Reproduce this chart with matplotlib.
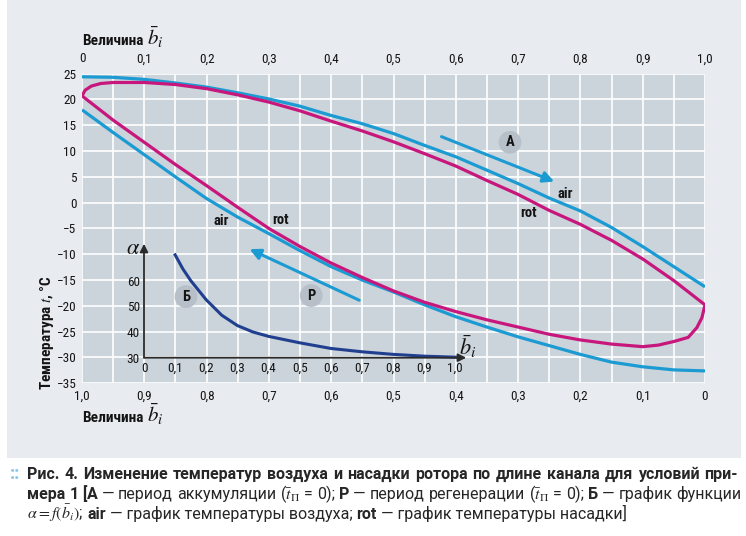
import numpy as np
import matplotlib
matplotlib.use("Agg")
import matplotlib.pyplot as plt
from matplotlib import font_manager as fm
from matplotlib.patches import Rectangle

W, H = 746, 536

# top axis: period A (accumulation), b_i from left to right
x_air_a = [0, 0.05, 0.1, 0.15, 0.2, 0.25, 0.3, 0.35, 0.4, 0.45, 0.5,
           0.55, 0.6, 0.65, 0.7, 0.75, 0.8, 0.85, 0.9, 0.95, 1.0]
t_air_a = [24.4, 24.3, 23.9, 23.2, 22.4, 21.3, 20.1, 18.7, 16.9, 15.3, 13.4,
           11.1, 8.9, 6.3, 3.7, 0.9, -1.6, -4.8, -8.5, -12.4, -16.3]
x_rot_a = [0, 0.005, 0.015, 0.03, 0.05, 0.1, 0.15, 0.2, 0.25, 0.3, 0.35, 0.4,
           0.45, 0.5, 0.55, 0.6, 0.65, 0.7, 0.75, 0.8, 0.85, 0.9, 0.95, 1.0]
t_rot_a = [20.7, 21.8, 22.6, 23.1, 23.3, 23.3, 22.9, 22.1, 20.9, 19.5, 17.8, 15.8,
           13.9, 11.8, 9.5, 7.1, 4.3, 1.6, -1.5, -4.2, -7.3, -10.9, -15.1, -19.8]

# bottom axis: period P (regeneration), b_i from right to left
b_air_p = [1.0, 0.95, 0.9, 0.85, 0.8, 0.75, 0.7, 0.65, 0.6, 0.55, 0.5,
           0.45, 0.4, 0.35, 0.3, 0.25, 0.2, 0.15, 0.1, 0.05, 0.0]
t_air_p = [18.0, 13.6, 9.3, 5.0, 0.8, -2.8, -6.0, -9.3, -12.4, -15.0, -17.3,
           -19.8, -22.1, -24.1, -26.0, -27.7, -29.4, -30.9, -31.8, -32.4, -32.6]
b_rot_p = [1.0, 0.95, 0.9, 0.85, 0.8, 0.75, 0.7, 0.65, 0.6, 0.55, 0.5, 0.45,
           0.4, 0.35, 0.3, 0.25, 0.2, 0.15, 0.1, 0.075, 0.05, 0.027, 0.013, 0.005, 0.0]
t_rot_p = [20.7, 16.0, 11.7, 7.4, 3.3, -0.9, -5.0, -8.5, -11.7, -14.5, -17.1, -19.3,
           -21.1, -22.7, -24.1, -25.5, -26.6, -27.4, -27.9, -27.6, -26.9, -26.1, -24.2, -22.3, -19.8]

# inset: alpha = f(b_i)
b_alpha = [0.1, 0.125, 0.15, 0.2, 0.25, 0.3, 0.35, 0.4, 0.5, 0.6, 0.7, 0.8, 0.9, 1.0]
alpha = [70, 64.5, 60, 52.5, 46.5, 42.5, 40.0, 38.3, 35.8, 33.6, 32.3, 31.3, 30.6, 30.2]

top_ticks = [0, 0.1, 0.2, 0.3, 0.4, 0.5, 0.6, 0.7, 0.8, 0.9, 1.0]
top_labels = ["0", "0,1", "0,2", "0,3", "0,4", "0,5", "0,6", "0,7", "0,8", "0,9", "1,0"]
y_ticks = [25, 20, 15, 10, 5, 0, -5, -10, -15, -20, -25, -30, -35]
inset_y_ticks = [30, 40, 50, 60]

BLUE = "#1c9bd3"
MAGENTA = "#c8177c"
DARK = "#213f8f"
AX_BG = "#cbd3db"
FIG_BG = "#e8ecf0"
CIRCLE = "#b7c0c9"
INK = "#141414"


def pick_condensed():
    names = {f.name for f in fm.fontManager.ttflist}
    for p in ["Roboto Condensed", "Liberation Sans Narrow", "Open Sans Condensed",
              "Noto Sans Condensed", "DejaVu Sans Condensed", "Arial Narrow"]:
        if p in names:
            return p, "normal"
    for f in fm.fontManager.ttflist:
        if f.stretch in ("condensed", "semi-condensed") and f.name in ("DejaVu Sans", "Noto Sans", "Open Sans"):
            return f.name, f.stretch
    return "DejaVu Sans", "normal"


cond_name, cond_stretch = pick_condensed()
plt.rcParams["font.family"] = [cond_name, "DejaVu Sans"]
plt.rcParams["font.stretch"] = cond_stretch
plt.rcParams["mathtext.fontset"] = "stix"
CAPTION_FONT = ["Roboto", "DejaVu Sans"]

fig = plt.figure(figsize=(W / 100, H / 100), dpi=100, facecolor="white")
fig.patches.append(Rectangle((7 / W, 1 - 458 / H), 734 / W, 458 / H,
                             transform=fig.transFigure, fc=FIG_BG, ec="none", zorder=-10))


def fx(px):
    return px / W


def fy(py):
    return 1 - py / H


ax = fig.add_axes([fx(82), fy(383.3), fx(705) - fx(82), fy(73.7) - fy(383.3)])
ax2 = ax.twiny()

ax.set_facecolor(AX_BG)
ax.set_xlim(0, 1)
ax.set_ylim(-35, 25)
ax.set_xticks(top_ticks)
ax.set_xticklabels(top_labels)
ax.set_xticks(np.arange(0, 1.0001, 0.05), minor=True)
ax.set_yticks(y_ticks)
ax.set_yticklabels([str(v).replace("-", "\u2212") for v in y_ticks])
ax.xaxis.tick_top()
ax.tick_params(which="both", length=0, labelsize=9.5, colors=INK)
ax.tick_params(axis="x", which="both", pad=6, labeltop=True, labelbottom=False)
ax.tick_params(axis="y", pad=4)
ax.grid(True, which="both", color="white", lw=1.2)
ax.set_axisbelow(True)
for s in ax.spines.values():
    s.set_visible(False)

ax2.set_xlim(1, 0)
ax2.set_xticks(top_ticks)
ax2.set_xticklabels(top_labels)
ax2.xaxis.tick_bottom()
ax2.tick_params(length=0, labelsize=9.5, colors=INK, pad=5, labeltop=False, labelbottom=True)
for s in ax2.spines.values():
    s.set_visible(False)

ax.plot(x_air_a, t_air_a, color=BLUE, lw=2.3, solid_capstyle="butt")
ax2.plot(b_air_p, t_air_p, color=BLUE, lw=2.3, solid_capstyle="butt")
ax.plot(x_rot_a, t_rot_a, color=MAGENTA, lw=2.3, solid_capstyle="butt")
ax2.plot(b_rot_p, t_rot_p, color=MAGENTA, lw=2.3, solid_capstyle="butt")

# direction arrows
ax.annotate("", xy=(0.758, 4.1), xytext=(0.577, 12.8),
            arrowprops=dict(arrowstyle="-|>", color=BLUE, lw=2.2, mutation_scale=16,
                            shrinkA=0, shrinkB=0))
ax2.annotate("", xy=(0.731, -9.0), xytext=(0.555, -18.9),
             arrowprops=dict(arrowstyle="-|>", color=BLUE, lw=2.2, mutation_scale=16,
                             shrinkA=0, shrinkB=0))

lab = dict(fontsize=10.5, fontweight="bold", color=INK, ha="center", va="center")
ax.text(0.775, 1.7, "air", **lab)
ax.text(0.717, -2.0, "rot", **lab)
ax.text(0.223, -3.6, "air", **lab)
ax.text(0.318, -3.3, "rot", **lab)
circ = dict(boxstyle="circle,pad=0.3", fc=CIRCLE, ec="none")
ax.text(0.687, 11.7, "А", bbox=circ, **lab)
ax.text(0.368, -18.0, "Р", bbox=circ, **lab)
ax.text(0.167, -18.2, "Б", bbox=circ, **lab)

# inset alpha(b_i)
ins = fig.add_axes([fx(144), fy(357.7), fx(455.3) - fx(144), fy(242) - fy(357.7)])
ins.patch.set_visible(False)
ins.set_xlim(0, 1)
ins.set_ylim(30, 75)
for s in ins.spines.values():
    s.set_visible(False)
ins.set_xticks(top_ticks)
ins.set_xticklabels(top_labels)
ins.set_yticks(inset_y_ticks)
ins.tick_params(length=0, labelsize=9.5, colors=INK)
ins.tick_params(axis="x", pad=3)
ins.tick_params(axis="y", pad=3)
ins.plot(b_alpha, alpha, color=DARK, lw=2.2, clip_on=False)
arr = dict(arrowstyle="-|>", color="#2a2a2a", lw=1.3, mutation_scale=12, shrinkA=0, shrinkB=0)
ins.annotate("", xy=(1.035, 30), xytext=(0, 30), arrowprops=arr, annotation_clip=False)
ins.annotate("", xy=(0, 74.3), xytext=(0, 30), arrowprops=arr, annotation_clip=False)
ins.text(-0.035, 72.5, r"$\alpha$", fontsize=16, ha="center", va="center", color=INK)
ins.text(1.04, 34.5, r"$\bar{b}_i$", fontsize=16, ha="center", va="center", color=INK)

renderer = fig.canvas.get_renderer()


def axis_title(py):
    t = fig.text(fx(82), fy(py), "Величина", fontsize=11, fontweight="bold",
                 ha="left", va="baseline", color=INK)
    w = t.get_window_extent(renderer).width
    fig.text(fx(82 + w + 4), fy(py), r"$\bar{b}_i$", fontsize=15, ha="left",
             va="baseline", color=INK)


axis_title(45)
axis_title(422)
fig.text(fx(47), fy(333), r"Температура $t$, °C", fontsize=11, fontweight="bold",
         rotation=90, ha="center", va="center", color=INK)

# caption with mixed weights, lines 1 and 2 justified


def width_of(txt, size, weight):
    t = fig.text(0, 0, txt, fontsize=size, fontweight=weight, family=CAPTION_FONT)
    w = t.get_window_extent(renderer).width
    t.remove()
    return w


line1 = [("Рис. 4.", "bold", False),
         ("Изменение температур воздуха и насадки ротора по длине канала для условий при-", "bold", True)]
line2 = [("мера 1", "bold", False), ("[", "bold", True), ("А", "bold", False),
         (r"— период аккумуляции ($\bar{t}_{\Pi}$ = 0);", "normal", True),
         ("Р", "bold", True), (r"— период регенерации ($\bar{t}_{\Pi}$ = 0);", "normal", True),
         ("Б", "bold", True), ("— график функции", "normal", True)]
line3 = [(r"$\alpha{=}f(\bar{b}_i)$;", "normal", False), ("air", "bold", True),
         ("— график температуры воздуха;", "normal", True), ("rot", "bold", True),
         ("— график температуры насадки]", "normal", True)]


def words(parts):
    out = []
    for txt, wgt, gap in parts:
        for k, w in enumerate(txt.split(" ")):
            out.append((w, wgt, gap if k == 0 else True))
    return out


def space_of(size):
    return width_of("x x", size, "normal") - width_of("xx", size, "normal")


def line_width(parts, size):
    sp = space_of(size)
    return sum(width_of(t, size, w) + (sp if g else 0) for t, w, g in words(parts))


X0, X1 = 27.0, 738.0
size = 11.0
size = min(size * (X1 - X0) / line_width(line1, size),
           size * (X1 - X0) / line_width(line2, size))


def draw_line(parts, py, size, justify):
    toks = words(parts) if justify else parts
    sp = space_of(size)
    if justify:
        ngaps = sum(1 for t in toks if t[2])
        sp += max(0.0, (X1 - X0) - line_width(parts, size)) / ngaps
    x = X0
    for txt, wgt, gap in toks:
        if gap:
            x += sp
        t = fig.text(fx(x), fy(py), txt, fontsize=size, fontweight=wgt, va="baseline",
                     ha="left", color="#262626", family=CAPTION_FONT)
        x += t.get_window_extent(renderer).width


draw_line(line1, 479, size, True)
draw_line(line2, 499, size, True)
draw_line(line3, 519, size, False)
fig.text(fx(10), fy(479), "::", fontsize=size + 2, fontweight="bold", color="#8cc4e6",
         va="baseline", ha="left")

fig.savefig("out.png", dpi=100, facecolor="white")
